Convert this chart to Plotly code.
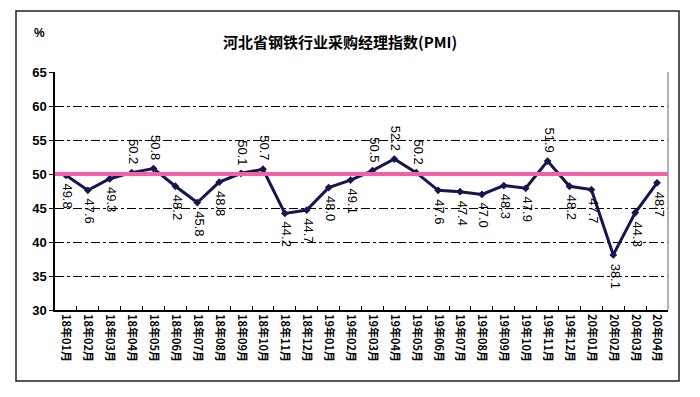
import plotly.graph_objects as go

months = ["18年01月", "18年02月", "18年03月", "18年04月", "18年05月", "18年06月", "18年07月",
          "18年08月", "18年09月", "18年10月", "18年11月", "18年12月", "19年01月", "19年02月",
          "19年03月", "19年04月", "19年05月", "19年06月", "19年07月", "19年08月", "19年09月",
          "19年10月", "19年11月", "19年12月", "20年01月", "20年02月", "20年03月", "20年04月"]
pmi = [49.8, 47.6, 49.3, 50.2, 50.8, 48.2, 45.8, 48.8, 50.1, 50.7, 44.2, 44.7, 48.0, 49.1,
       50.5, 52.2, 50.2, 47.6, 47.4, 47.0, 48.3, 47.9, 51.9, 48.2, 47.7, 38.1, 44.3, 48.7]
threshold = 50
y_ticks = [30, 35, 40, 45, 50, 55, 60, 65]
title = "河北省钢铁行业采购经理指数(PMI)"

L, R, T, B = 55, 32, 72, 87
pw, ph = 700 - L - R, 397 - T - B


def px_x(x):
    return (x - L) / pw


def px_y(y):
    return (397 - y - B) / ph


fig = go.Figure()
fig.add_trace(go.Scatter(
    x=months, y=pmi, mode="lines+markers",
    line=dict(color="#15154F", width=3),
    marker=dict(symbol="diamond", size=6, color="#15154F"),
    showlegend=False, hoverinfo="x+y"))

annotations = []
for m, v in zip(months, pmi):
    above = v > threshold
    annotations.append(dict(
        x=m, y=v, xref="x", yref="y", text=f"{v:.1f}", showarrow=False,
        textangle=90, xanchor="center", yanchor="middle",
        xshift=2, yshift=21 if above else -21,
        font=dict(family="Liberation Sans, Arial", size=13, color="#000000")))

annotations.append(dict(x=px_x(340), y=px_y(41), xref="paper", yref="paper", text=title,
                        showarrow=False, xanchor="center", yanchor="middle",
                        font=dict(family="Noto Sans CJK SC", size=15, color="#000000",
                                  weight="bold")))
annotations.append(dict(x=px_x(39), y=px_y(33), xref="paper", yref="paper", text="<b>%</b>",
                        showarrow=False, xanchor="center", yanchor="middle",
                        font=dict(family="Liberation Sans, Arial", size=12, color="#000000")))

shapes = [
    dict(type="line", xref="paper", yref="y", x0=0, x1=1, y0=threshold, y1=threshold,
         line=dict(color="#F45FA8", width=4), layer="above"),
    dict(type="rect", xref="paper", yref="paper",
         x0=px_x(16), x1=px_x(679), y0=px_y(381), y1=px_y(11),
         line=dict(color="#222222", width=1.5)),
    dict(type="line", xref="paper", yref="paper", x0=1, x1=1, y0=0, y1=1,
         line=dict(color="#999999", width=1.5)),
]

fig.update_layout(
    width=700, height=397,
    margin=dict(l=L, r=R, t=T, b=B),
    paper_bgcolor="white", plot_bgcolor="white",
    annotations=annotations, shapes=shapes,
    xaxis=dict(
        type="category", tickangle=90, showgrid=False, tickson="boundaries",
        ticks="inside", ticklen=4, tickcolor="black",
        showline=True, linecolor="black", linewidth=1.5,
        tickfont=dict(family="Noto Sans CJK SC", size=11, color="#000000", weight="bold"),
        range=[-0.5, len(months) - 0.5]),
    yaxis=dict(
        range=[30, 65], tickvals=y_ticks, ticks="outside", ticklen=4, tickcolor="black",
        showline=True, linecolor="black", linewidth=1.5, mirror=False,
        showgrid=True, gridcolor="black", griddash="dashdot", gridwidth=1,
        zeroline=False,
        tickfont=dict(family="Liberation Sans, Arial", size=13, color="#000000", weight="bold")),
)

fig.write_html("out.html", config={"displayModeBar": False},
               post_script="document.body.style.margin='0';")
